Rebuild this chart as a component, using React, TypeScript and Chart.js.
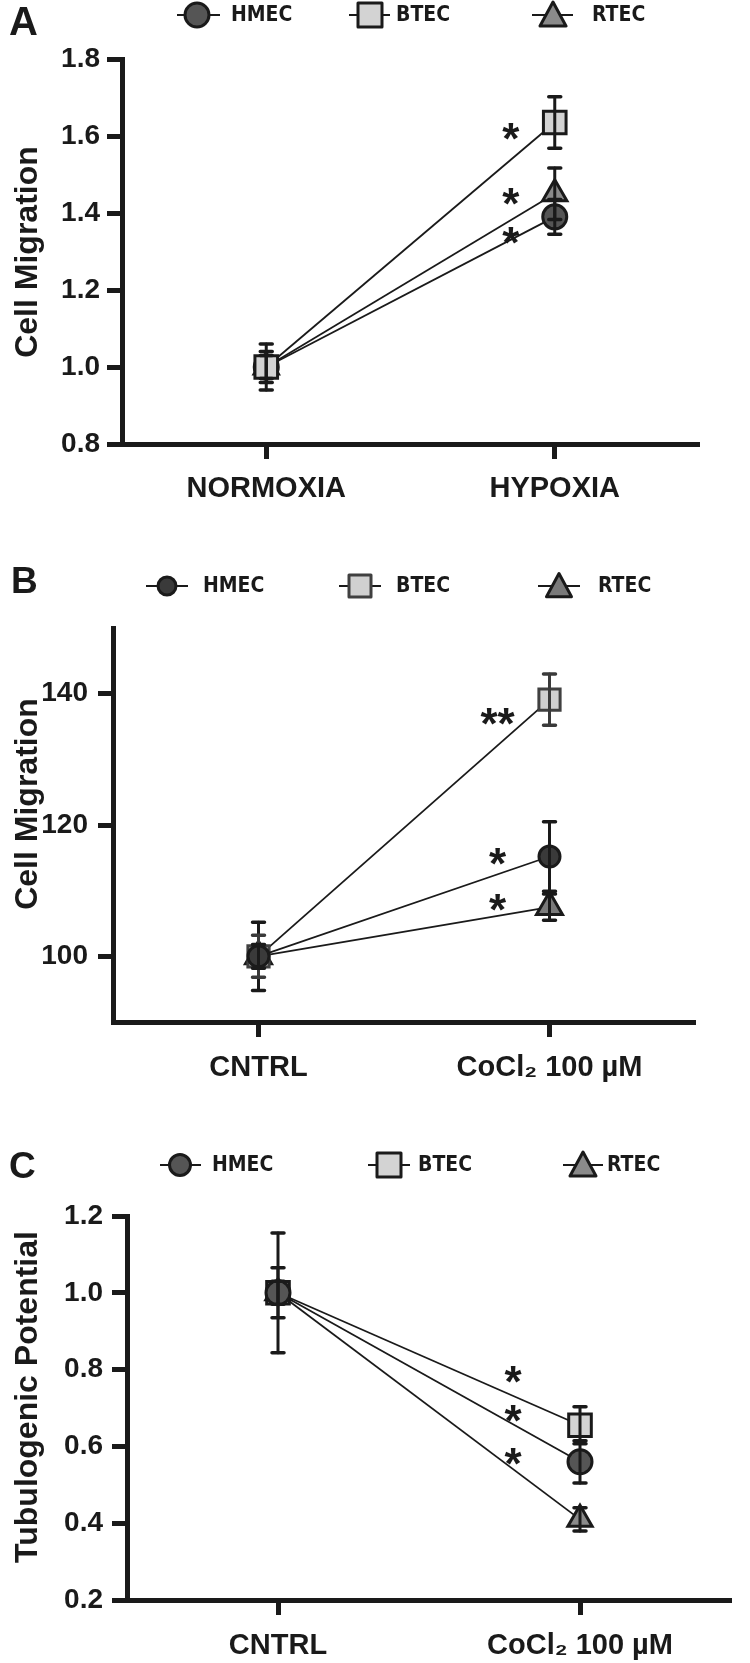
import React, { useEffect, useRef } from 'react';
import { Chart, registerables } from 'chart.js';
Chart.register(...registerables);

// ---------- DATA ----------
const seriesNames = ['HMEC', 'BTEC', 'RTEC'];

// Panel A — Cell Migration (normoxia vs hypoxia)
const categoriesA = ['NORMOXIA', 'HYPOXIA'];
const hmecA = [1.0, 1.39];
const btecA = [1.0, 1.635];
const rtecA = [1.0, 1.45];
const hmecErrA = [0.04, 0.045];
const btecErrA = [0.03, 0.067];
const rtecErrA = [0.06, 0.067];
const yTicksA = [0.8, 1.0, 1.2, 1.4, 1.6, 1.8];
const yRangeA = [0.8, 1.8];
const starTextA = ['*', '*', '*'];
const starValA = [1.62, 1.45, 1.35];
const titleA = 'Cell Migration';

// Panel B — Cell Migration (CoCl2)
const categoriesB = ['CNTRL', 'CoCl₂ 100 µM'];
const hmecB = [100, 115.2];
const btecB = [100, 139.1];
const rtecB = [100, 107.5];
const hmecErrB = [5.2, 5.3];
const btecErrB = [3.2, 3.9];
const rtecErrB = [1.8, 2.0];
const yTicksB = [100, 120, 140];
const yRangeB = [90, 150];
const starTextB = ['**', '*', '*'];
const starValB = [137.0, 115.7, 108.7];
const titleB = 'Cell Migration';

// Panel C — Tubulogenic Potential (CoCl2)
const categoriesC = ['CNTRL', 'CoCl₂ 100 µM'];
const hmecC = [1.0, 0.56];
const btecC = [1.0, 0.655];
const rtecC = [1.0, 0.41];
const hmecErrC = [0.065, 0.055];
const btecErrC = [0.03, 0.048];
const rtecErrC = [0.156, 0.03];
const yTicksC = [0.2, 0.4, 0.6, 0.8, 1.0, 1.2];
const yRangeC = [0.2, 1.2];
const starTextC = ['*', '*', '*'];
const starValC = [0.794, 0.694, 0.582];
const titleC = 'Tubulogenic Potential';

// ---------- STYLE ----------
const W = 750;
const INK = '#1a1a1a';
const FONT = '"Liberation Sans", Arial, Helvetica, sans-serif';
const LEGEND_FONT = '"DejaVu Sans Condensed", "DejaVu Sans", Verdana, sans-serif';
const shapes = ['circle', 'rect', 'triangle'];

type Panel = {
  letter: string;
  top: number;
  height: number;
  area: { left: number; right: number; top: number; bottom: number };
  cats: string[];
  values: number[][];
  errors: number[][];
  yTicks: number[];
  yRange: number[];
  decimals: number;
  title: string;
  titleY: number;
  starText: string[];
  starVal: number[];
  starDx: number;
  yPad: number;
  xPad: number;
  fills: string[];
  strokes: string[];
  errColors: string[];
  radii: number[];
  orders: number[];
  letterPos: { x: number; y: number; size: number };
  legendY: number;
  legend: { m: number; l1: number; l2: number; t: number; s: number }[];
};

const panels: Panel[] = [
  {
    letter: 'A', top: 0, height: 530,
    area: { left: 122, right: 699, top: 59, bottom: 444 },
    cats: categoriesA, values: [hmecA, btecA, rtecA], errors: [hmecErrA, btecErrA, rtecErrA],
    yTicks: yTicksA, yRange: yRangeA, decimals: 1, title: titleA, titleY: 252,
    starText: starTextA, starVal: starValA, starDx: 44, yPad: 7, xPad: 13,
    fills: ['#555555', '#d3d3d3', '#8a8a8a'], strokes: [INK, INK, INK], errColors: [INK, INK, INK],
    radii: [12, 16, 14], orders: [2, 0, 1],
    letterPos: { x: 9, y: 35, size: 40 },
    legendY: 15,
    legend: [
      { m: 197, l1: 177, l2: 220, t: 231, s: 12 },
      { m: 370, l1: 349, l2: 390, t: 396, s: 12 },
      { m: 553, l1: 532, l2: 573, t: 592, s: 13 },
    ],
  },
  {
    letter: 'B', top: 530, height: 580,
    area: { left: 113, right: 695, top: 98, bottom: 492 },
    cats: categoriesB, values: [hmecB, btecB, rtecB], errors: [hmecErrB, btecErrB, rtecErrB],
    yTicks: yTicksB, yRange: yRangeB, decimals: 0, title: titleB, titleY: 274,
    starText: starTextB, starVal: starValB, starDx: 52, yPad: 10, xPad: 14,
    fills: ['#3a3a3a', '#d0d0d0', '#7a7a7a'], strokes: [INK, '#404040', INK], errColors: [INK, '#3a3a3a', INK],
    radii: [10.5, 15, 15], orders: [0, 1, 2],
    letterPos: { x: 11, y: 63, size: 37 },
    legendY: 56,
    legend: [
      { m: 167, l1: 146, l2: 188, t: 203, s: 9 },
      { m: 360, l1: 339, l2: 381, t: 396, s: 11 },
      { m: 559, l1: 538, l2: 580, t: 598, s: 12.5 },
    ],
  },
  {
    letter: 'C', top: 1110, height: 553,
    area: { left: 127, right: 747, top: 106, bottom: 490 },
    cats: categoriesC, values: [hmecC, btecC, rtecC], errors: [hmecErrC, btecErrC, rtecErrC],
    yTicks: yTicksC, yRange: yRangeC, decimals: 1, title: titleC, titleY: 287,
    starText: starTextC, starVal: starValC, starDx: 67, yPad: 9, xPad: 14,
    fills: ['#555555', '#d3d3d3', '#8a8a8a'], strokes: [INK, INK, INK], errColors: [INK, INK, INK],
    radii: [12, 16, 14], orders: [0, 1, 2],
    letterPos: { x: 9, y: 68, size: 37 },
    legendY: 55,
    legend: [
      { m: 180, l1: 160, l2: 201, t: 212, s: 10.5 },
      { m: 389, l1: 368, l2: 410, t: 418, s: 12 },
      { m: 583, l1: 563, l2: 603, t: 607, s: 13 },
    ],
  },
];

function drawShape(ctx: CanvasRenderingContext2D, shape: string, x: number, y: number, s: number, fill: string, stroke: string) {
  ctx.save();
  ctx.fillStyle = fill;
  ctx.strokeStyle = stroke;
  ctx.lineWidth = 3;
  ctx.lineJoin = 'round';
  ctx.beginPath();
  if (shape === 'circle') {
    ctx.arc(x, y, s, 0, Math.PI * 2);
  } else if (shape === 'rect') {
    ctx.rect(x - s, y - s, 2 * s, 2 * s);
  } else {
    ctx.moveTo(x, y - s);
    ctx.lineTo(x + s, y + s * 0.85);
    ctx.lineTo(x - s, y + s * 0.85);
    ctx.closePath();
  }
  ctx.fill();
  ctx.stroke();
  ctx.restore();
}

function makePlugin(p: Panel) {
  return {
    id: 'decor' + p.letter,
    afterDatasetsDraw(chart: any) {
      const ctx: CanvasRenderingContext2D = chart.ctx;
      const xs = chart.scales.x;
      const ys = chart.scales.y;
      // error bars
      p.values.forEach((vals, i) => {
        ctx.save();
        ctx.strokeStyle = p.errColors[i];
        ctx.lineCap = 'round';
        vals.forEach((v, j) => {
          const e = p.errors[i][j];
          const x = xs.getPixelForValue(j);
          const yT = ys.getPixelForValue(v + e);
          const yB = ys.getPixelForValue(v - e);
          ctx.lineWidth = 3;
          ctx.beginPath();
          ctx.moveTo(x, yT);
          ctx.lineTo(x, yB);
          ctx.stroke();
          ctx.lineWidth = 3.5;
          ctx.beginPath();
          ctx.moveTo(x - 6, yT);
          ctx.lineTo(x + 6, yT);
          ctx.moveTo(x - 6, yB);
          ctx.lineTo(x + 6, yB);
          ctx.stroke();
        });
        ctx.restore();
      });
      // significance stars
      ctx.save();
      ctx.fillStyle = INK;
      ctx.font = `bold 44px ${FONT}`;
      ctx.textAlign = 'center';
      ctx.textBaseline = 'alphabetic';
      p.starText.forEach((t, k) => {
        const x = xs.getPixelForValue(p.cats.length - 1) - p.starDx;
        const y = ys.getPixelForValue(p.starVal[k]);
        ctx.fillText(t, x, y + 0.58 * 44);
      });
      ctx.restore();
    },
    afterDraw(chart: any) {
      const ctx: CanvasRenderingContext2D = chart.ctx;
      ctx.save();
      // panel letter
      ctx.fillStyle = INK;
      ctx.font = `bold ${p.letterPos.size}px ${FONT}`;
      ctx.textAlign = 'left';
      ctx.textBaseline = 'alphabetic';
      ctx.fillText(p.letter, p.letterPos.x, p.letterPos.y);
      // y title
      ctx.save();
      ctx.translate(28, p.titleY);
      ctx.rotate(-Math.PI / 2);
      ctx.font = `bold 32px ${FONT}`;
      ctx.textAlign = 'center';
      ctx.textBaseline = 'middle';
      ctx.fillText(p.title, 0, 0);
      ctx.restore();
      // legend
      p.legend.forEach((it, i) => {
        ctx.strokeStyle = INK;
        ctx.lineWidth = 2;
        ctx.beginPath();
        ctx.moveTo(it.l1, p.legendY);
        ctx.lineTo(it.l2, p.legendY);
        ctx.stroke();
        drawShape(ctx, shapes[i], it.m, p.legendY, it.s, p.fills[i], p.strokes[i]);
        ctx.fillStyle = INK;
        ctx.font = `bold 21px ${LEGEND_FONT}`;
        ctx.textAlign = 'left';
        ctx.textBaseline = 'middle';
        ctx.fillText(seriesNames[i], it.t, p.legendY + 1);
      });
      ctx.restore();
    },
  };
}

function PanelChart({ p }: { p: Panel }) {
  const ref = useRef<HTMLCanvasElement | null>(null);
  useEffect(() => {
    if (!ref.current) return;
    const a = p.area;
    const gridCfg = {
      display: true,
      drawOnChartArea: false,
      drawTicks: true,
      tickLength: 15,
      tickWidth: 5,
      tickColor: INK,
      offset: false,
    };
    const borderCfg = { display: true, width: 5, color: INK };
    const chart = new Chart(ref.current, {
      type: 'line',
      data: {
        labels: p.cats,
        datasets: seriesNames.map((n, i) => ({
          label: n,
          data: p.values[i],
          borderColor: INK,
          borderWidth: 1.8,
          pointStyle: shapes[i] as any,
          pointRadius: p.radii[i],
          pointBackgroundColor: p.fills[i],
          pointBorderColor: p.strokes[i],
          pointBorderWidth: 3,
          order: p.orders[i],
          clip: false as any,
          tension: 0,
          fill: false,
        })),
      },
      options: {
        responsive: false,
        animation: false,
        devicePixelRatio: 1,
        events: [],
        layout: { padding: { left: 0, right: W - a.right, top: a.top, bottom: 0 } },
        plugins: {
          legend: { display: false },
          tooltip: { enabled: false },
          title: { display: false },
        },
        scales: {
          x: {
            type: 'category',
            offset: true,
            grid: gridCfg as any,
            border: borderCfg,
            ticks: {
              color: INK,
              font: { family: FONT, size: 29, weight: 'bold' },
              padding: p.xPad,
              maxRotation: 0,
              autoSkip: false,
            },
            afterFit: (s: any) => {
              s.height = p.height - a.bottom;
            },
          },
          y: {
            type: 'linear',
            min: p.yRange[0],
            max: p.yRange[1],
            afterBuildTicks: (s: any) => {
              s.ticks = p.yTicks.map((v) => ({ value: v }));
            },
            grid: gridCfg as any,
            border: borderCfg,
            ticks: {
              color: INK,
              font: { family: FONT, size: 28, weight: 'bold' },
              padding: p.yPad,
              callback: (v: any) => Number(v).toFixed(p.decimals),
            },
            afterFit: (s: any) => {
              s.width = a.left;
            },
          },
        },
      } as any,
      plugins: [makePlugin(p)],
    });
    return () => chart.destroy();
  }, [p]);
  return (
    <canvas
      ref={ref}
      width={W}
      height={p.height}
      style={{ position: 'absolute', left: 0, top: p.top, width: W, height: p.height }}
    />
  );
}

export default function App() {
  return (
    <div style={{ position: 'absolute', left: 0, top: 0, width: W, height: 1663, background: '#fff' }}>
      {panels.map((p) => (
        <PanelChart key={p.letter} p={p} />
      ))}
    </div>
  );
}
